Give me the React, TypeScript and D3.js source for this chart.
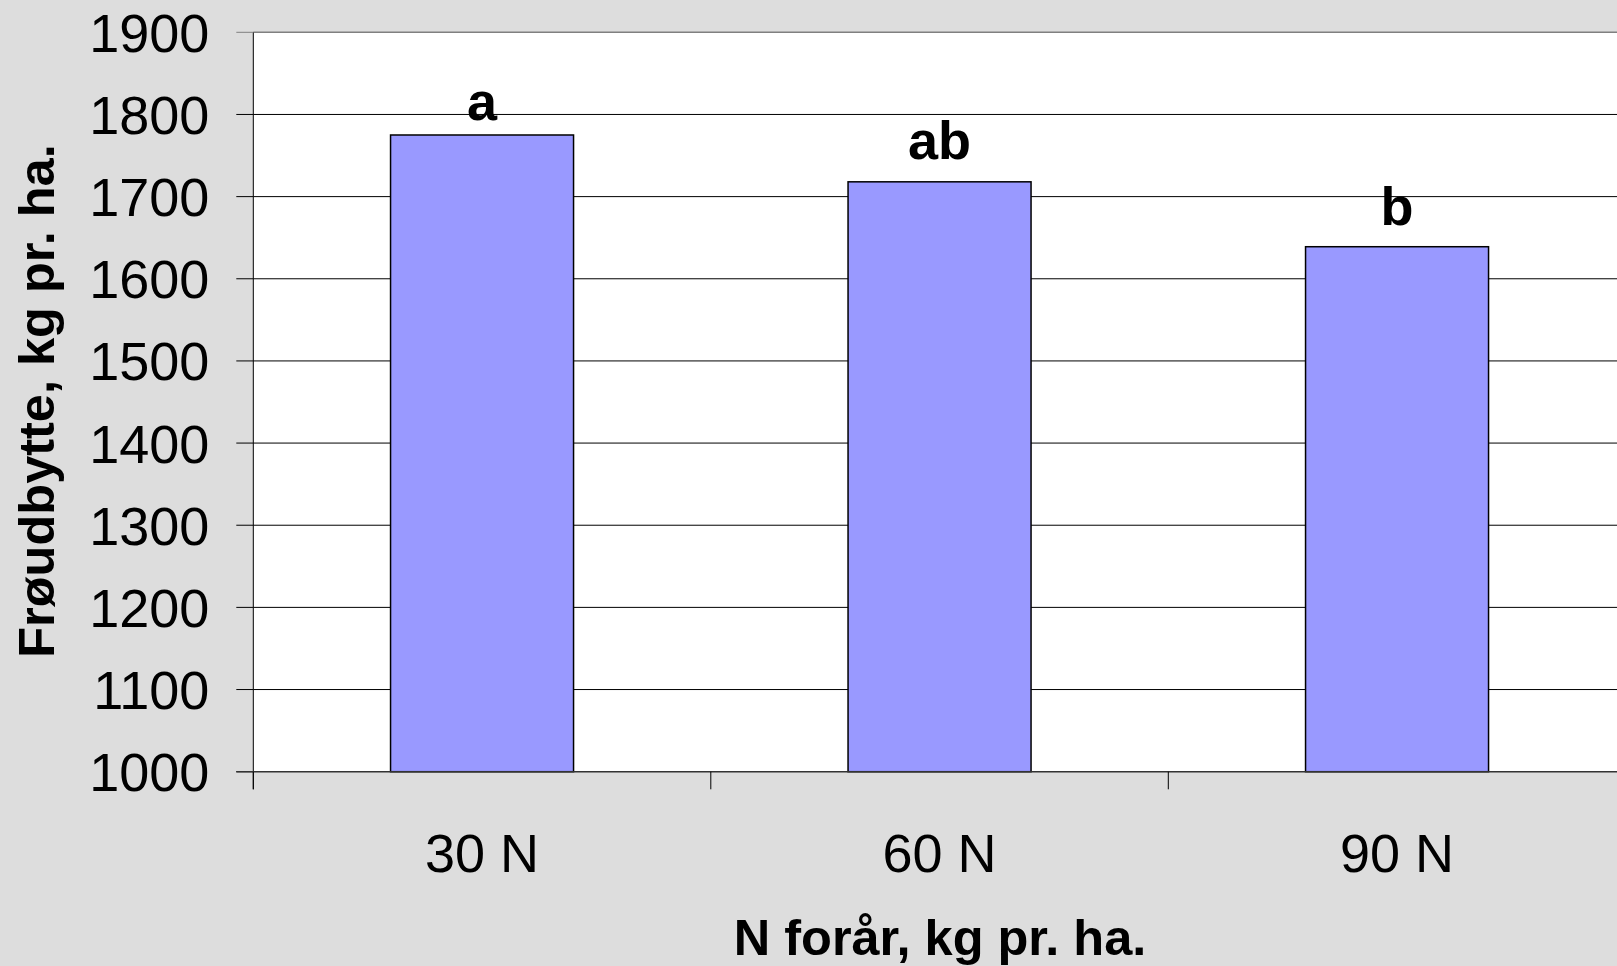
import React from 'react';
import * as d3 from 'd3';

// data
const categories = ['30 N', '60 N', '90 N'];
const yields = [1775, 1718, 1639];
const letters = ['a', 'ab', 'b'];
// where each letter sits, in y-axis units
const letterValues = [1793, 1746, 1665];
const yTicks = [1000, 1100, 1200, 1300, 1400, 1500, 1600, 1700, 1800, 1900];

const W = 1617;
const H = 966;
const FONT = '"Liberation Sans", Arial, Helvetica, sans-serif';

const App = () => {
  const left = 253.3;
  const top = 32.3;
  const bottom = 771.7;
  const step = 457.5;

  const x = d3.scaleBand<string>()
    .domain(categories)
    .range([left, left + step * categories.length])
    .paddingInner(0.6)
    .paddingOuter(0.3);

  const y = d3.scaleLinear().domain([1000, 1900]).range([bottom, top]);

  const right = left + step * categories.length;
  const boundaries = d3.range(categories.length + 1).map(i => left + i * x.step());

  return (
    <svg
      width={W}
      height={H}
      style={{ position: 'absolute', left: 0, top: 0, display: 'block' }}
      fontFamily={FONT}
    >
      <rect x={0} y={0} width={W} height={H} fill="#dddddd" />
      <rect x={left} y={top} width={right - left} height={bottom - top} fill="#ffffff" />

      {/* gridlines */}
      {yTicks.slice(1, -1).map(t => (
        <line key={t} x1={left} x2={right} y1={y(t)} y2={y(t)} stroke="#000" strokeWidth={1} />
      ))}
      <line x1={left} x2={right} y1={top} y2={top} stroke="#808080" strokeWidth={1.5} />

      {/* bars */}
      {categories.map((c, i) => (
        <rect
          key={c}
          x={x(c)}
          y={y(yields[i])}
          width={x.bandwidth()}
          height={bottom - y(yields[i])}
          fill="#9999ff"
          stroke="#000"
          strokeWidth={1.5}
        />
      ))}

      {/* significance letters */}
      {categories.map((c, i) => (
        <text
          key={'l' + c}
          x={(x(c) ?? 0) + x.bandwidth() / 2}
          y={y(letterValues[i])}
          textAnchor="middle"
          fontSize={54}
          fontWeight="bold"
          fill="#000"
        >
          {letters[i]}
        </text>
      ))}

      {/* y axis */}
      <line x1={left} x2={left} y1={top} y2={bottom + 17.6} stroke="#000" strokeWidth={1} />
      {yTicks.map(t => (
        <g key={'y' + t}>
          <line x1={left - 17} x2={left} y1={y(t)} y2={y(t)} stroke={t === 1900 ? '#808080' : '#000'} strokeWidth={1} />
          <text x={209.3} y={y(t) + 19.5} textAnchor="end" fontSize={54} fill="#000">
            {t}
          </text>
        </g>
      ))}

      {/* x axis */}
      <line x1={left - 17} x2={right} y1={bottom} y2={bottom} stroke="#333" strokeWidth={1.6} />
      {boundaries.map(b => (
        <line key={'xt' + b} x1={b} x2={b} y1={bottom} y2={bottom + 17.6} stroke="#000" strokeWidth={1} />
      ))}
      {categories.map(c => (
        <text
          key={'x' + c}
          x={(x(c) ?? 0) + x.bandwidth() / 2}
          y={871.7}
          textAnchor="middle"
          fontSize={54}
          fill="#000"
        >
          {c}
        </text>
      ))}

      {/* axis titles */}
      <text x={940} y={955} textAnchor="middle" fontSize={50.5} fontWeight="bold" fill="#000">
        N forår, kg pr. ha.
      </text>
      <text
        transform={`translate(54, 401) rotate(-90)`}
        textAnchor="middle"
        fontSize={50.5}
        fontWeight="bold"
        fill="#000"
      >
        Frøudbytte, kg pr. ha.
      </text>
    </svg>
  );
};

export default App;
